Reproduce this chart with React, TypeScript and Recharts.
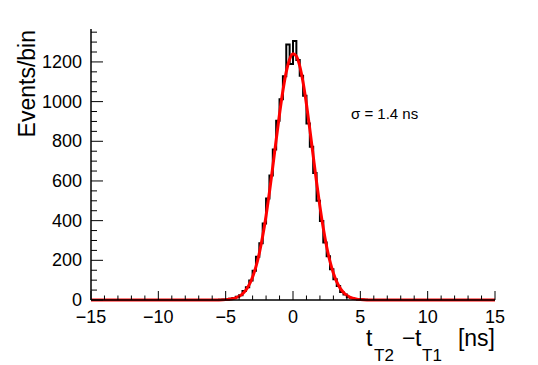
import { ComposedChart, Line, XAxis, YAxis, Label } from "recharts";

const FONT = "'Liberation Sans', Arial, Helvetica, sans-serif";

// histogram: 120 bins of 0.25 ns from -15 to 15
const HIST_MIN = -15;
const BIN_WIDTH = 0.25;
const counts = [
  0, 0, 0, 0, 0, 0, 0, 0, 0, 0, 0, 0, 0, 0, 0, 0, 0, 0, 0, 0,
  0, 0, 0, 0, 0, 0, 0, 0, 0, 0, 0, 0, 0, 0, 0, 0, 0, 0,
  // -5.5 .. 0
  1, 2, 3, 6, 10, 17, 24, 45, 64, 98, 147, 218, 286, 385, 512, 627, 758, 904, 1012, 1128, 1288, 1190,
  // 0 .. 5.5
  1305, 1210, 1130, 1030, 890, 772, 640, 500, 398, 290, 220, 155, 104, 70, 40, 28, 14, 10, 5, 3, 2, 1,
  0, 0, 0, 0, 0, 0, 0, 0, 0, 0, 0, 0, 0, 0, 0, 0, 0, 0, 0, 0,
  0, 0, 0, 0, 0, 0, 0, 0, 0, 0, 0, 0, 0, 0, 0, 0, 0, 0,
];

// gaussian fit curve, sigma = 1.4 ns
const fitX = [
  -15, -6, -5.5, -5, -4.75, -4.5, -4.25, -4, -3.75, -3.5, -3.25, -3, -2.75, -2.5, -2.25, -2, -1.75,
  -1.5, -1.25, -1, -0.75, -0.5, -0.25, 0, 0.25, 0.5, 0.75, 1, 1.25, 1.5, 1.75, 2, 2.25, 2.5, 2.75,
  3, 3.25, 3.5, 3.75, 4, 4.25, 4.5, 4.75, 5, 5.5, 6, 15,
];
const fitY = [
  0, 0.1, 0.5, 1.9, 3.5, 6.3, 11.1, 18.9, 31.2, 49.9, 77.2, 115.8, 168.1, 236.5, 322.2, 425.1, 543.5,
  672.9, 807.1, 937.5, 1054.8, 1149.7, 1213.8, 1241.2, 1229.4, 1179.5, 1096.1, 986.7, 860.2, 726.5, 594.3,
  470.8, 361.3, 268.6, 193.4, 134.9, 91.1, 59.6, 37.8, 23.2, 13.8, 7.9, 4.4, 2.4, 0.6, 0.15, 0,
];

const xTicks = [
  -15, -14, -13, -12, -11, -10, -9, -8, -7, -6, -5, -4, -3, -2, -1, 0,
  1, 2, 3, 4, 5, 6, 7, 8, 9, 10, 11, 12, 13, 14, 15,
];
const xMajorTicks = [-15, -10, -5, 0, 5, 10, 15];
const yTicks = [
  0, 50, 100, 150, 200, 250, 300, 350, 400, 450, 500, 550, 600, 650, 700, 750,
  800, 850, 900, 950, 1000, 1050, 1100, 1150, 1200, 1250, 1300, 1350,
];
const yMajorTicks = [0, 200, 400, 600, 800, 1000, 1200];
const Y_MAX = 1366;

const histData = counts.map((c, i) => ({ x: HIST_MIN + i * BIN_WIDTH, y: c }));
histData.push({ x: HIST_MIN + counts.length * BIN_WIDTH, y: counts[counts.length - 1] });
const fitData = fitX.map((x, i) => ({ x, y: fitY[i] }));

const fmt = (v: number) => (v < 0 ? "\u2212" + Math.abs(v) : String(v));

function XTick(props: any) {
  const { x, y, payload, side } = props;
  const major = xMajorTicks.includes(payload.value);
  const len = major ? 9 : 4.5;
  const dir = side === "top" ? 1 : -1;
  return (
    <g>
      <line x1={x} x2={x} y1={y} y2={y + dir * len} stroke="#000" strokeWidth={1} />
      {major && side !== "top" && (
        <text x={x} y={y + 22.5} textAnchor="middle" fontSize={18} fontFamily={FONT} fill="#000">
          {fmt(payload.value)}
        </text>
      )}
    </g>
  );
}

function YTick(props: any) {
  const { x, y, payload, side } = props;
  const major = yMajorTicks.includes(payload.value);
  const len = major ? 12 : 6;
  const dir = side === "right" ? -1 : 1;
  return (
    <g>
      <line x1={x} x2={x + dir * len} y1={y} y2={y} stroke="#000" strokeWidth={1} />
      {major && side !== "right" && (
        <text x={x - 9} y={y + 6} textAnchor="end" fontSize={18} fontFamily={FONT} fill="#000">
          {payload.value}
        </text>
      )}
    </g>
  );
}

function XTitle(props: any) {
  const vb = props.viewBox;
  const r = vb.x + vb.width;
  const base = vb.y + 46;
  return (
    <g fontFamily={FONT} fill="#000">
      <text x={r - 129} y={base} fontSize={23}>t</text>
      <text x={r - 121} y={base + 15} fontSize={17}>T2</text>
      <text x={r - 93} y={base} fontSize={23}>{"\u2212"}</text>
      <text x={r - 80} y={base} fontSize={23}>t</text>
      <text x={r - 73} y={base + 15} fontSize={17}>T1</text>
      <text x={r} y={base} fontSize={23} textAnchor="end">[ns]</text>
    </g>
  );
}

function YTitle(props: any) {
  const vb = props.viewBox;
  const ax = vb.x + 35;
  const ay = vb.y + 1;
  return (
    <text
      x={ax}
      y={ay}
      transform={`rotate(-90, ${ax}, ${ay})`}
      textAnchor="end"
      fontSize={23}
      fontFamily={FONT}
      fill="#000"
    >
      Events/bin
    </text>
  );
}

export default function App() {
  const axisLine = { stroke: "#000", strokeWidth: 1.5 };
  return (
    <div style={{ position: "absolute", left: 0, top: 0, width: 538, height: 365, background: "#fff" }}>
      <ComposedChart width={538} height={365} margin={{ top: 29, right: 43, bottom: 0, left: 0 }}>
        <XAxis
          xAxisId="b"
          dataKey="x"
          type="number"
          domain={[-15, 15]}
          ticks={xTicks}
          interval={0}
          height={65}
          tickSize={0}
          tickMargin={0}
          tickLine={false}
          axisLine={axisLine}
          tick={<XTick side="bottom" />}
        >
          <Label content={XTitle} />
        </XAxis>
        <XAxis
          xAxisId="t"
          orientation="top"
          type="number"
          domain={[-15, 15]}
          ticks={xTicks}
          interval={0}
          height={0}
          tickSize={0}
          tickMargin={0}
          tickLine={false}
          axisLine={axisLine}
          tick={<XTick side="top" />}
        />
        <YAxis
          yAxisId="l"
          type="number"
          domain={[0, Y_MAX]}
          ticks={yTicks}
          interval={0}
          width={91}
          tickSize={0}
          tickMargin={0}
          tickLine={false}
          axisLine={axisLine}
          tick={<YTick side="left" />}
        >
          <Label content={YTitle} />
        </YAxis>
        <YAxis
          yAxisId="r"
          orientation="right"
          type="number"
          domain={[0, Y_MAX]}
          ticks={yTicks}
          interval={0}
          width={0}
          tickSize={0}
          tickMargin={0}
          tickLine={false}
          axisLine={axisLine}
          tick={<YTick side="right" />}
        />
        <Line
          xAxisId="b"
          yAxisId="l"
          data={histData}
          dataKey="y"
          type="stepAfter"
          stroke="#000"
          strokeWidth={2}
          dot={false}
          isAnimationActive={false}
        />
        <Line
          xAxisId="b"
          yAxisId="l"
          data={fitData}
          dataKey="y"
          type="monotone"
          stroke="#ff0000"
          strokeWidth={3}
          dot={false}
          isAnimationActive={false}
        />
      </ComposedChart>
      <div
        style={{
          position: "absolute",
          left: 351,
          top: 106,
          fontSize: 15,
          lineHeight: "15px",
          fontFamily: FONT,
          color: "#000",
          whiteSpace: "nowrap",
        }}
      >
        σ = 1.4 ns
      </div>
    </div>
  );
}
